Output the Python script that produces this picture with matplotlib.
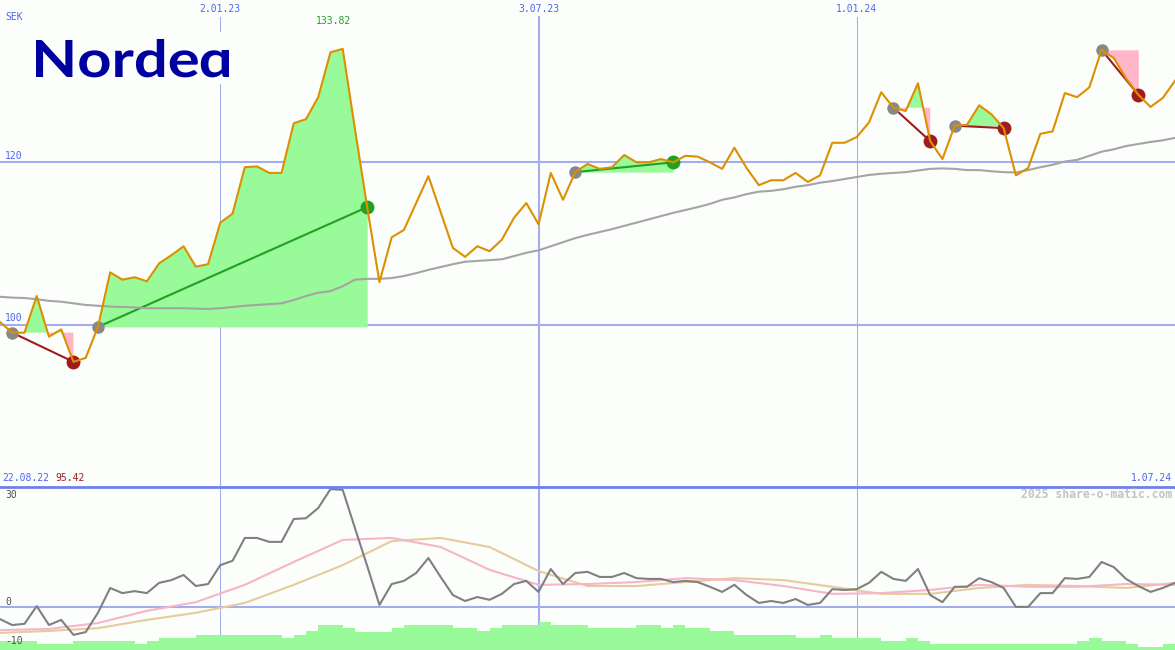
import matplotlib
matplotlib.use('Agg')
import matplotlib.pyplot as plt
import matplotlib.dates as mdates
import matplotlib.transforms as mtransforms
from matplotlib.lines import Line2D
from matplotlib.patches import PathPatch, Rectangle
from matplotlib.textpath import TextPath
from matplotlib.font_manager import FontProperties
import numpy as np
import pandas as pd

# weekly closes, Nordea (SEK)
weeks = pd.date_range('2022-08-29', periods=97, freq='7D')

price = [100.3, 99.0, 99.0, 103.5, 98.5, 99.4, 95.42, 95.9, 99.7, 106.4,
         105.5, 105.8, 105.3, 107.5, 108.5, 109.6, 107.1, 107.4, 112.5, 113.6,
         119.3, 119.4, 118.6, 118.6, 124.7, 125.2, 127.9, 133.4, 133.82, 124.0,
         114.4, 105.2, 110.7, 111.6, 114.9, 118.2, 113.8, 109.4, 108.3, 109.6,
         109.0, 110.4, 113.1, 114.9, 112.3, 118.6, 115.3, 118.7, 119.7, 119.1,
         119.3, 120.8, 119.9, 119.9, 120.3, 119.9, 120.7, 120.6, 119.9, 119.1,
         121.7, 119.2, 117.1, 117.7, 117.7, 118.6, 117.5, 118.3, 122.3, 122.3,
         123.0, 124.8, 128.5, 126.6, 126.2, 129.6, 122.5, 120.3, 124.4, 124.5,
         126.9, 125.8, 124.1, 118.3, 119.2, 123.4, 123.7, 128.4, 127.9, 129.1,
         133.7, 132.7, 130.2, 128.2, 126.7, 127.8, 129.9]

avg = [103.4, 103.3, 103.25, 103.1, 102.9, 102.8, 102.6, 102.4, 102.3, 102.2,
       102.15, 102.1, 102.0, 102.0, 102.0, 102.0, 101.95, 101.9, 102.0, 102.15,
       102.3, 102.4, 102.5, 102.6, 103.0, 103.5, 103.9, 104.1, 104.7, 105.5,
       105.6, 105.6, 105.7, 105.95, 106.3, 106.7, 107.05, 107.4, 107.7, 107.8,
       107.9, 108.0, 108.4, 108.8, 109.1, 109.6, 110.1, 110.6, 111.0, 111.35,
       111.7, 112.1, 112.5, 112.9, 113.3, 113.7, 114.05, 114.4, 114.8, 115.3,
       115.6, 116.0, 116.3, 116.4, 116.6, 116.9, 117.1, 117.4, 117.6, 117.85,
       118.1, 118.35, 118.5, 118.6, 118.7, 118.9, 119.1, 119.15, 119.1, 118.95,
       118.95, 118.8, 118.7, 118.65, 118.95, 119.3, 119.6, 120.0, 120.2, 120.7,
       121.2, 121.5, 121.9, 122.15, 122.4, 122.6, 122.9]

osc = [-3.0, -4.5, -4.2, 0.3, -4.5, -3.2, -7.0, -6.3, -1.4, 4.9,
       3.6, 4.1, 3.6, 6.2, 6.9, 8.2, 5.4, 5.9, 10.7, 11.8,
       17.6, 17.6, 16.6, 16.6, 22.4, 22.6, 25.2, 30.0, 29.8, 20.1,
       10.5, 0.6, 5.9, 6.7, 8.7, 12.5, 7.7, 3.1, 1.6, 2.6,
       1.9, 3.4, 5.9, 6.7, 3.9, 9.7, 5.9, 8.7, 9.0, 7.7,
       7.7, 8.7, 7.4, 7.2, 7.2, 6.4, 6.7, 6.4, 5.2, 3.9,
       5.7, 3.1, 1.1, 1.6, 1.1, 2.1, 0.6, 1.1, 4.6, 4.4,
       4.6, 6.2, 9.0, 7.2, 6.7, 9.7, 3.1, 1.3, 5.2, 5.2,
       7.4, 6.4, 4.9, 0.1, 0.1, 3.6, 3.6, 7.4, 7.2, 7.7,
       11.5, 10.2, 7.2, 5.4, 3.9, 4.9, 6.2]

# smooth oscillator averages, read every 4th week
smooth_idx = list(range(0, 97, 4))
osc_fast = [-5.8, -5.5, -4.0, -0.9, 1.3, 5.7, 11.5, 17.1, 17.6, 15.3, 9.5, 5.7, 5.9,
            6.4, 7.4, 6.9, 5.4, 3.4, 3.6, 4.4, 5.7, 5.2, 5.2, 5.9, 5.7]
osc_slow = [-6.5, -6.0, -5.3, -3.2, -1.4, 1.1, 5.7, 10.7, 16.8, 17.6, 15.3, 9.2, 5.4,
            5.4, 6.4, 7.4, 6.9, 5.2, 3.4, 3.4, 4.9, 5.7, 5.4, 4.9, 6.2]

volume = [9, 9, 9, 6, 6, 6, 9, 9, 9, 9, 9, 6, 9, 12, 12, 12, 15, 15, 15, 15,
          15, 15, 15, 12, 15, 19, 25, 25, 22, 18, 18, 18, 22, 25, 25, 25, 25, 22, 22, 19,
          22, 25, 25, 25, 28, 25, 25, 25, 22, 22, 22, 22, 25, 25, 22, 25, 22, 22, 19, 19,
          15, 15, 15, 15, 15, 12, 12, 15, 12, 12, 12, 12, 9, 9, 12, 9, 6, 6, 6, 6,
          6, 6, 6, 6, 6, 6, 6, 6, 9, 12, 9, 9, 6, 3, 3, 6, 6]

sig_start = [1, 8, 47, 73, 78, 90]
sig_end = [6, 30, 55, 76, 82, 93]

tick_dates = pd.to_datetime(['2023-01-02', '2023-07-03', '2024-01-01'])
tick_labels = ['2.01.23', '3.07.23', '1.01.24']
tick_widths = [1.0, 2.0, 1.0]

bg = '#fcfefc'
blue = '#5064ee'
gridc = '#a4acf0'
up = '#22a022'
down = '#a01c1c'
logo_c = '#0000a0'

fig = plt.figure(figsize=(11.75, 6.5), dpi=100)
fig.patch.set_facecolor(bg)
ax = fig.add_axes([0, 163 / 650, 1, 487 / 650])
low = fig.add_axes([0, 0, 1, 163 / 650])
vax = low.twinx()
for a in (ax, low, vax):
    a.set_axis_off()
    a.set_xlim(weeks[0], weeks[-1])
ax.set_ylim(80.06, 139.82)
low.set_ylim(-10.84, 30.53)
vax.set_ylim(0, 163)

# grid
for d, w in zip(tick_dates, tick_widths):
    ax.axvline(d, ymax=0.965, color=gridc, lw=w * 0.75, zorder=1)
    low.axvline(d, color=gridc, lw=w * 0.75, zorder=1)
for lv in (100, 120):
    ax.axhline(lv, color=gridc, lw=1.5, zorder=1)
low.axhline(0, color=gridc, lw=1.5, zorder=1)
fig.add_artist(Line2D([0, 1], [163 / 650, 163 / 650], transform=fig.transFigure,
                      color='#7080ea', lw=2))

# signals
price_a = np.array(price)
for s, e in zip(sig_start, sig_end):
    xs = weeks[s:e + 1]
    ps = price_a[s:e + 1]
    lvl = price[s]
    ax.fill_between(xs, ps, lvl, where=ps >= lvl, interpolate=True,
                    color='#98fa98', lw=0, zorder=2)
    ax.fill_between(xs, ps, lvl, where=ps < lvl, interpolate=True,
                    color='#ffb6c8', lw=0, zorder=2)
    col = up if price[e] > lvl else down
    ax.plot([weeks[s], weeks[e]], [lvl, price[e]], color=col, lw=1.5, zorder=3)
    ax.plot(weeks[s], lvl, 'o', color='#888888', ms=9, mew=0, zorder=3)
    ax.plot(weeks[e], price[e], 'o', color=col, ms=10, mew=0, zorder=3)

ax.plot(weeks, avg, color='#a4a4a4', lw=1.5, zorder=3)
ax.plot(weeks, price, color='#dc9000', lw=1.5, zorder=4)

# lower panel
low.plot(weeks[smooth_idx], osc_slow, color='#e6cc9c', lw=1.5, zorder=2)
low.plot(weeks[smooth_idx], osc_fast, color='#f8b4c8', lw=1.5, zorder=2)
low.plot(weeks, osc, color='#808080', lw=1.5, zorder=3)
vax.bar(weeks, volume, width=7, align='edge', color='#98fa98', lw=0)

# labels
mono = 'DejaVu Sans Mono'
top = mtransforms.blended_transform_factory(ax.transData, fig.transFigure)
for d, lab in zip(tick_dates, tick_labels):
    fig.text(mdates.date2num(d), 1 - 9 / 650, lab, transform=top, ha='center',
             va='center', family=mono, fontsize=7, color=blue)
imax = int(np.argmax(price_a))
imin = int(np.argmin(price_a))
fig.text(mdates.date2num(weeks[imax]) - 5, 1 - 21 / 650, f'{price[imax]:.2f}',
         transform=top, ha='center', va='center', family=mono, fontsize=7, color=up)

fig.text(5 / 1175, 1 - 17 / 650, 'SEK', family=mono, fontsize=7, color=blue, va='center')
fig.text(5 / 1175, 1 - 156 / 650, '120', family=mono, fontsize=7, color=blue, va='center')
fig.text(5 / 1175, 1 - 318 / 650, '100', family=mono, fontsize=7, color=blue, va='center')
fig.text(2 / 1175, 1 - 478 / 650, '22.08.22', family=mono, fontsize=7, color=blue, va='center')
fig.text(55 / 1175, 1 - 478 / 650, f'{price[imin]:.2f}', family=mono, fontsize=7,
         color=down, va='center')
fig.text(1172 / 1175, 1 - 478 / 650, '1.07.24', family=mono, fontsize=7, color=blue,
         va='center', ha='right')
fig.text(1172 / 1175, 1 - 495 / 650, '2025 share-o-matic.com', family=mono, fontsize=8.3,
         fontweight='bold', color='#c4c4c4', va='center', ha='right')
for txt, py in (('30', 495), ('0', 602), ('-10', 641)):
    fig.text(5 / 1175, 1 - py / 650, txt, family=mono, fontsize=7, color='#505050',
             va='center')

# logo: "Norde" + a single-storey "a" cut from a "d", fitted to the logo box
fp = FontProperties(family='Lato', weight='bold')
head = TextPath((0, 0), 'Norde', size=100, prop=fp)
dgl = TextPath((0, 0), 'd', size=100, prop=fp)
cap = TextPath((0, 0), 'N', size=100, prop=fp).get_extents()
oe = TextPath((0, 0), 'o', size=100, prop=fp).get_extents()
he = head.get_extents()
de = dgl.get_extents()
gap = 5
a_x0 = he.x1 + gap
sx = (229 - 36) / (a_x0 + de.width - he.x0)
sy = 37 / cap.height
tr = mtransforms.Affine2D().translate(-he.x0, -cap.y0).scale(sx, sy).translate(36, 650 - 77)
fig.add_artist(Rectangle((30, 650 - 84), 206, 52, transform=mtransforms.Affine2D(),
                         facecolor=bg, lw=0, zorder=5))
fig.add_artist(PathPatch(head, transform=tr, facecolor=logo_c, lw=0, zorder=6))
tail = PathPatch(dgl, transform=mtransforms.Affine2D().translate(a_x0 - de.x0, 0) + tr,
                 facecolor=logo_c, lw=0, zorder=6)
clip = Rectangle((a_x0 - 5, oe.y0 - 10), de.width + 10, oe.y1 - oe.y0 + 10, transform=tr)
fig.add_artist(tail)
tail.set_clip_path(clip)

fig.savefig('out.png', dpi=100, facecolor=bg)
